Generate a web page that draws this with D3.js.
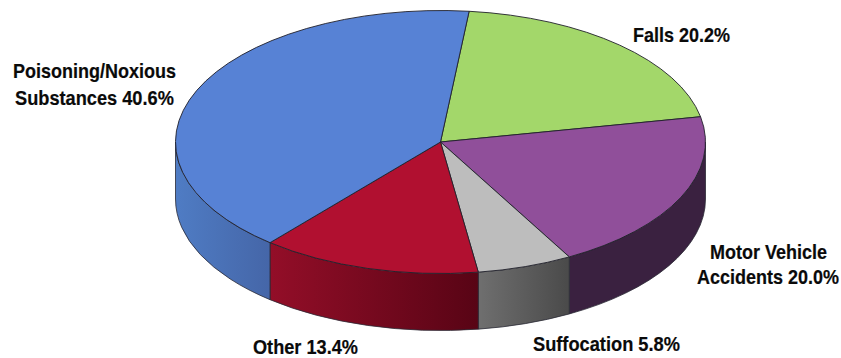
<!DOCTYPE html>
<html><head><meta charset="utf-8">
<script src="https://cdnjs.cloudflare.com/ajax/libs/d3/7.8.5/d3.min.js"></script>
<style>html,body{margin:0;padding:0;background:#fff}svg{display:block}
text{font-family:"Liberation Sans",Arial,sans-serif;font-weight:700;font-size:21px;fill:#0a0a0a;stroke:#0a0a0a;stroke-width:0.2}</style>
</head><body><div id="chart"></div>
<script>
const categories = ["Falls","Motor Vehicle Accidents","Suffocation","Other","Poisoning/Noxious Substances"];
const shares = [20.2,20.0,5.8,13.4,40.6];
const topColors = ["#a3d76a","#904f9a","#bdbdbd","#b11030","#5782d5"];
const wallColors = [["#6f9340","#6f9340"],["#3a2140","#3a2140"],["#6f6f6f","#4a4a4a"],["#930e28","#580415"],["#4f7cc4","#4566a8"]];
const labelLines = [
  {lines:["Falls 20.2%"],x:[633],y:[42],w:[97]},
  {lines:["Motor Vehicle","Accidents 20.0%"],x:[710,697],y:[259,284],w:[117,142]},
  {lines:["Suffocation 5.8%"],x:[533],y:[351],w:[147]},
  {lines:["Other 13.4%"],x:[253],y:[354],w:[105]},
  {lines:["Poisoning/Noxious","Substances 40.6%"],x:[13,15],y:[78,105],w:[163,159]}
];
const W=841,H=358,cx=440.5,cy=142,rx=265,ry=131.5,depth=57,startDeg=6.2;
const sx=d3.scaleLinear().domain([-1,1]).range([cx-rx,cx+rx]);
const sy=d3.scaleLinear().domain([-1,1]).range([cy-ry,cy+ry]);
const svg=d3.select("#chart").append("svg").attr("width",W).attr("height",H);
const start=startDeg*Math.PI/180;
const arcs=d3.pie().sort(null).startAngle(start).endAngle(start+2*Math.PI)(shares);
const defs=svg.append("defs");
const px=a=>sx(Math.sin(a)), py=a=>sy(-Math.cos(a));
const ell=(a0,a1,dy)=>{
  const large=(a1-a0)>Math.PI?1:0;
  return `A${rx},${ry} 0 ${large} 1 ${px(a1)},${py(a1)+dy}`;
};
const walls=svg.append("g");
arcs.forEach((d,i)=>{
  const a0=Math.max(d.startAngle,Math.PI/2), a1=Math.min(d.endAngle,3*Math.PI/2);
  if(a1<=a0) return;
  const id="w"+i;
  const g=defs.append("linearGradient").attr("id",id).attr("gradientUnits","userSpaceOnUse")
    .attr("x1",Math.min(px(a0),px(a1))).attr("x2",Math.max(px(a0),px(a1))).attr("y1",0).attr("y2",0);
  g.append("stop").attr("offset",0).attr("stop-color",wallColors[i][0]);
  g.append("stop").attr("offset",1).attr("stop-color",wallColors[i][1]);
  const large=(a1-a0)>Math.PI?1:0;
  walls.append("path").attr("d",`M${px(a0)},${py(a0)}`+ell(a0,a1,0)+`L${px(a1)},${py(a1)+depth}A${rx},${ry} 0 ${large} 0 ${px(a0)},${py(a0)+depth}Z`)
    .attr("fill",`url(#${id})`).attr("stroke","#2a2a35").attr("stroke-width",0.8).attr("stroke-linejoin","round");
});
const tops=svg.append("g");
arcs.forEach((d,i)=>{
  tops.append("path").attr("d",`M${cx},${cy}L${px(d.startAngle)},${py(d.startAngle)}`+ell(d.startAngle,d.endAngle,0)+"Z")
    .attr("fill",topColors[i]).attr("stroke","#20202a").attr("stroke-width",0.9).attr("stroke-linejoin","round");
});
const lab=svg.append("g");
labelLines.forEach(l=>l.lines.forEach((t,j)=>{
  const n=lab.append("text").text(t);
  const natural=n.node().getComputedTextLength();
  n.attr("transform",`translate(${l.x[j]},${l.y[j]}) scale(${l.w[j]/natural},1)`);
}));
</script></body></html>
